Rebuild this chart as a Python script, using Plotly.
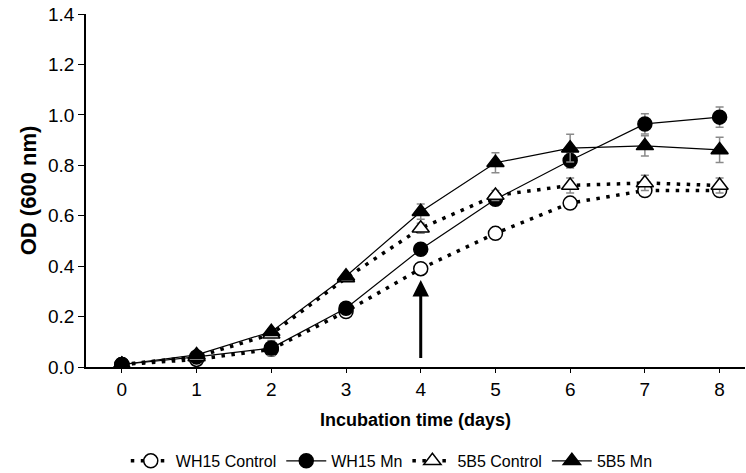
import plotly.graph_objects as go

days = [0, 1, 2, 3, 4, 5, 6, 7, 8]

wh15_control = [0.01, 0.03, 0.07, 0.22, 0.39, 0.53, 0.65, 0.70, 0.70]
wh15_control_err = [0.005, 0.005, 0.01, 0.01, 0.01, 0.01, 0.01, 0.02, 0.02]

wh15_mn = [0.01, 0.04, 0.075, 0.233, 0.467, 0.665, 0.819, 0.964, 0.991]
wh15_mn_err = [0.005, 0.005, 0.03, 0.01, 0.02, 0.02, 0.03, 0.04, 0.04]

b5_control = [0.01, 0.04, 0.13, 0.353, 0.55, 0.68, 0.72, 0.73, 0.72]
b5_control_err = [0.005, 0.005, 0.01, 0.01, 0.02, 0.02, 0.03, 0.03, 0.03]

b5_mn = [0.01, 0.048, 0.14, 0.36, 0.616, 0.81, 0.868, 0.877, 0.861]
b5_mn_err = [0.005, 0.005, 0.01, 0.01, 0.03, 0.04, 0.055, 0.04, 0.05]

arrow_day = 4
arrow_from = 0.03
arrow_to = 0.345

FONT = "Liberation Sans"
ERR_COLOR = "#8a8a8a"

fig = go.Figure()

def add(name, y, err, symbol, filled, dotted):
    fig.add_trace(go.Scatter(
        x=days, y=y, name=name, mode="lines+markers",
        line=dict(color="black", width=3.5 if dotted else 1.2,
                  dash="3.5px,6.5px" if dotted else "solid"),
        marker=dict(symbol=symbol, size=14 if symbol == "circle" else 15,
                    color="black" if filled else "white",
                    line=dict(color="black", width=1.5)),
        error_y=dict(type="data", array=err, visible=True,
                     color=ERR_COLOR, thickness=1.5, width=4),
    ))

add("WH15 Control", wh15_control, wh15_control_err, "circle", False, True)
add("WH15 Mn", wh15_mn, wh15_mn_err, "circle", True, False)
add("5B5 Control", b5_control, b5_control_err, "triangle-up", False, True)
add("5B5 Mn", b5_mn, b5_mn_err, "triangle-up", True, False)

fig.add_annotation(
    x=arrow_day, y=arrow_to, ax=arrow_day, ay=arrow_from,
    xref="x", yref="y", axref="x", ayref="y",
    text="", showarrow=True, arrowhead=2, arrowsize=1.1,
    arrowwidth=3, arrowcolor="black", standoff=0,
)

fig.update_layout(
    width=746, height=473,
    margin=dict(l=86, r=1, t=14, b=106, autoexpand=False),
    paper_bgcolor="white", plot_bgcolor="white",
    font=dict(family=FONT, color="black", size=19),
    showlegend=True,
    legend=dict(orientation="h", x=0.464, xanchor="center",
                y=-0.266, yanchor="middle",
                font=dict(family=FONT, size=16, color="black"),
                itemwidth=40, tracegroupgap=0),
    xaxis=dict(range=[-0.48, 8.34], tickvals=days, showgrid=False,
               zeroline=False, showline=True, linecolor="black", linewidth=1.5,
               ticks="outside", ticklen=4, tickcolor="black",
               tickfont=dict(size=19, family=FONT),
               title=dict(text="<b>Incubation time (days)</b>",
                          font=dict(size=18, family=FONT), standoff=15)),
    yaxis=dict(range=[0, 1.4], dtick=0.2, tickformat=".1f", showgrid=False,
               zeroline=False, showline=True, linecolor="black", linewidth=1.5,
               ticks="outside", ticklen=6, tickcolor="black",
               tickfont=dict(size=19, family=FONT),
               title=dict(text="<b>OD (600 nm)</b>",
                          font=dict(size=22, family=FONT), standoff=5)),
)

fig.write_html("out.html")
